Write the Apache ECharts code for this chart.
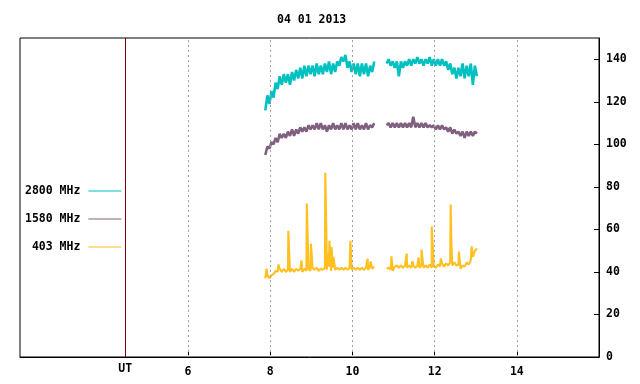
<!DOCTYPE html>
<html>
<head>
<meta charset="utf-8">
<script src="https://cdn.jsdelivr.net/npm/echarts@6/dist/echarts.min.js"></script>
<style>
  html, body { margin: 0; padding: 0; background: #fff; }
  #chart { width: 640px; height: 384px; }
</style>
</head>
<body>
<div id="chart"></div>
<script>
// sample times (UT hours), two recording blocks
var timesA = [7.88, 7.93, 7.98, 8.03, 8.08, 8.13, 8.18, 8.23, 8.28, 8.33, 8.38, 8.43, 8.48, 8.53, 8.58, 8.63, 8.68, 8.73,
  8.78, 8.83, 8.88, 8.93, 8.98, 9.03, 9.08, 9.13, 9.18, 9.23, 9.28, 9.33, 9.38, 9.43, 9.48, 9.53, 9.58, 9.63,
  9.68, 9.73, 9.78, 9.83, 9.88, 9.93, 9.98, 10.03, 10.08, 10.13, 10.18, 10.23, 10.28, 10.33, 10.38, 10.43, 10.48, 10.53];
var timesB = [10.83, 10.88, 10.93, 10.98, 11.03, 11.08, 11.13, 11.18, 11.23, 11.28, 11.33, 11.38, 11.43, 11.48, 11.53,
  11.58, 11.63, 11.68, 11.73, 11.78, 11.83, 11.88, 11.93, 11.98, 12.03, 12.08, 12.13, 12.18, 12.23, 12.28, 12.33,
  12.38, 12.43, 12.48, 12.53, 12.58, 12.63, 12.68, 12.73, 12.78, 12.83, 12.88, 12.93, 12.98, 13.03];

// 2800 MHz
var f2800A = [116, 123, 119, 125, 122, 129, 126, 132, 128, 133, 129, 133, 128, 134, 130, 135, 131, 136,
  131, 137, 132, 137, 133, 137, 132, 138, 133, 137, 133, 138, 134, 139, 133, 138, 134, 139,
  137, 141, 139, 142, 136, 139, 134, 138, 133, 138, 132, 138, 133, 138, 132, 137, 134, 139];
var f2800B = [138, 140, 137, 139, 136, 139, 132, 139, 136, 139, 137, 140, 137, 140, 138,
  141, 138, 140, 137, 140, 138, 141, 137, 140, 137, 140, 137, 140, 137, 139, 135,
  138, 133, 136, 131, 136, 132, 138, 131, 137, 132, 138, 128, 137, 132];

// 1580 MHz
var f1580A = [95, 99, 98, 101, 100, 103, 101, 105, 103, 105, 103, 106, 104, 107, 104, 107, 105, 108,
  106, 108, 106, 109, 107, 109, 107, 110, 107, 110, 107, 109, 106, 109, 107, 110, 107, 109,
  107, 110, 107, 110, 107, 109, 107, 110, 107, 110, 107, 109, 107, 110, 107, 109, 108, 110];
var f1580B = [109, 110, 108, 110, 108, 110, 108, 110, 108, 110, 108, 110, 108, 113, 108,
  110, 108, 110, 108, 110, 108, 109, 108, 109, 107, 109, 107, 109, 107, 108, 106,
  108, 105, 107, 105, 106, 104, 106, 103, 106, 104, 106, 104, 106, 105];

// 403 MHz
var f403A = [37, 38.5, 37, 38.5, 39, 40.5, 40, 41.5, 40, 41.5, 40, 41, 40, 41.5, 40, 41.5, 40.5, 41.5,
  40, 41.5, 40.5, 41.5, 40.5, 42, 41, 42, 40.5, 41.5, 41, 42, 41, 42.5, 40.5, 42, 41, 42,
  41, 42, 41, 42, 41, 42, 41, 42, 41, 42, 41, 42, 41, 42, 41, 42.5, 41.5, 42.5];
var f403B = [41.5, 42, 41, 40.5, 42.5, 43, 42, 43, 42, 43, 42, 43, 42, 43, 42,
  43, 42, 43, 42, 43, 42, 43.5, 42, 42.5, 42, 43.5, 42.5, 44, 42.5, 44, 43,
  44.5, 43, 44.5, 43, 43.5, 41.5, 43, 42.5, 44.5, 43.5, 45.5, 47, 50, 51];
var spikes403 = [[7.91, 41.5], [8.20, 43.5], [8.44, 59.4], [8.76, 45.4], [8.89, 72.2], [8.99, 53.3],
  [9.34, 86.6], [9.39, 48.6], [9.44, 54.7], [9.49, 51.7], [9.54, 47], [9.95, 54.7], [10.37, 46.2],
  [10.44, 45], [10.95, 47.3], [11.32, 48.6], [11.46, 45], [11.61, 46.8], [11.68, 50.5], [11.93, 61.4],
  [12.15, 46.3], [12.39, 71.7], [12.41, 52.4], [12.59, 49.6], [12.90, 52]];

var tickHours = [6, 8, 10, 12, 14];
var utHour = 4.47;
var names = ['2800 MHz', '1580 MHz', '403 MHz'];
var colors = ['#00c0c0', '#806080', '#ffc020'];

var FONT = 'DejaVu Sans Mono';

function join(a, b) {
  var out = [];
  for (var i = 0; i < timesA.length; i++) out.push([timesA[i], a[i]]);
  out.push(null);
  for (var j = 0; j < timesB.length; j++) out.push([timesB[j], b[j]]);
  return out;
}

function withSpikes(a, b, spikes) {
  var partA = [], partB = [];
  for (var i = 0; i < timesA.length; i++) partA.push([timesA[i], a[i]]);
  for (var j = 0; j < timesB.length; j++) partB.push([timesB[j], b[j]]);
  spikes.forEach(function (s) {
    if (s[0] < 10.7) partA.push(s); else partB.push(s);
  });
  var byTime = function (p, q) { return p[0] - q[0]; };
  partA.sort(byTime);
  partB.sort(byTime);
  return partA.concat([null], partB);
}

var chart = echarts.init(document.getElementById('chart'), null, { renderer: 'canvas' });

var labelStyle = { fontFamily: FONT, fontWeight: 'bold', fontSize: 11.5, color: '#000' };

var options = {
  animation: false,
  title: {
    text: '04 01 2013',
    left: 272,
    top: 9,
    textStyle: { fontFamily: FONT, fontWeight: 'bold', fontSize: 11.5, color: '#000' }
  },
  legend: {
    orient: 'vertical',
    left: 20,
    top: 179,
    align: 'right',
    icon: 'rect',
    itemWidth: 33,
    itemHeight: 1,
    itemGap: 14,
    data: names,
    formatter: function (name) { return name.padStart(8, ' '); },
    textStyle: { fontFamily: FONT, fontWeight: 'bold', fontSize: 11.5, color: '#000', lineHeight: 14, padding: [0, 3, 0, 0] }
  },
  grid: {
    left: 20,
    right: 41,
    top: 38,
    bottom: 27,
    show: true,
    borderColor: '#000',
    borderWidth: 1
  },
  xAxis: {
    type: 'value',
    min: 1.91,
    max: 16,
    axisLine: { show: true, onZero: false, lineStyle: { color: '#000' } },
    axisTick: { inside: true, length: 5, customValues: tickHours, lineStyle: { color: '#000' } },
    axisLabel: Object.assign({ margin: 9, customValues: tickHours }, labelStyle),
    splitLine: { show: false }
  },
  yAxis: {
    type: 'value',
    position: 'right',
    min: 0,
    max: 150,
    interval: 20,
    axisLine: { show: true, lineStyle: { color: '#000' } },
    axisTick: { inside: true, length: 5, lineStyle: { color: '#000' } },
    axisLabel: Object.assign({ margin: 7, showMaxLabel: false }, labelStyle),
    splitLine: { show: false }
  },
  series: [
    {
      name: names[0],
      type: 'line',
      showSymbol: false,
      symbol: 'none',
      connectNulls: false,
      lineStyle: { color: colors[0], width: 2.6 },
      itemStyle: { color: colors[0] },
      data: join(f2800A, f2800B)
    },
    {
      name: names[1],
      type: 'line',
      showSymbol: false,
      symbol: 'none',
      connectNulls: false,
      lineStyle: { color: colors[1], width: 2.6 },
      itemStyle: { color: colors[1] },
      data: join(f1580A, f1580B)
    },
    {
      name: names[2],
      type: 'line',
      showSymbol: false,
      symbol: 'none',
      connectNulls: false,
      lineStyle: { color: colors[2], width: 2.1 },
      itemStyle: { color: colors[2] },
      data: withSpikes(f403A, f403B, spikes403),
      markLine: {
        silent: true,
        symbol: 'none',
        animation: false,
        lineStyle: { color: '#a0a0a0', type: [2, 3], width: 1 },
        label: { show: false },
        data: tickHours.map(function (h) { return { xAxis: h }; }).concat([{
          xAxis: utHour,
          lineStyle: { color: '#800000', type: 'solid', width: 1 },
          label: Object.assign({ show: true, position: 'start', distance: 6, formatter: 'UT' }, labelStyle)
        }])
      }
    }
  ]
};

chart.setOption(options);
</script>
</body>
</html>
